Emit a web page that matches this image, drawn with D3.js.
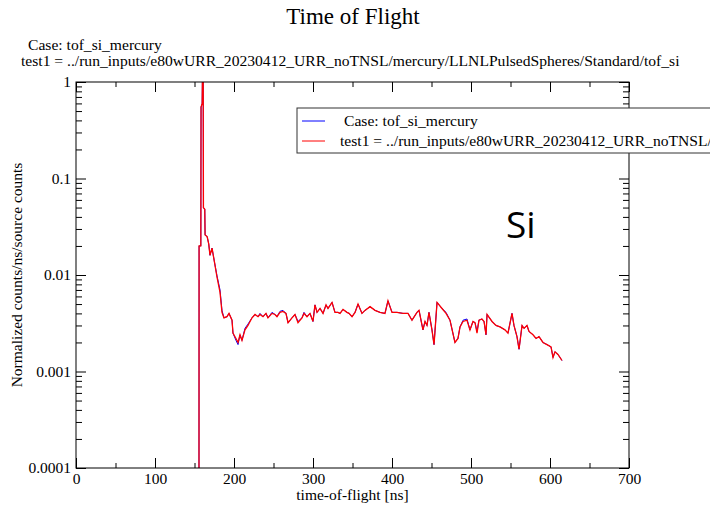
<!DOCTYPE html>
<html>
<head>
<meta charset="utf-8">
<script src="https://cdn.jsdelivr.net/npm/d3@7"></script>
<style>
  body { margin: 0; background: #fff; }
  text { font-family: "Liberation Serif", "DejaVu Serif", serif; }
</style>
</head>
<body>
<svg id="chart" width="710" height="507"></svg>
<script>
// time-of-flight bins [ns]
const tof = [155.6, 155.8, 158.0, 158.3, 159.7, 160.0, 161.0, 161.3, 163.0, 163.4,
  166.0, 168.0, 169.6, 172.2, 175.0, 178.5, 182.3, 184.8, 187.3, 191.1,
  193.7, 197.5, 198.7, 202.5, 205.1, 207.6, 210.1, 213.9, 217.7, 222.8,
  226.6, 230.4, 232.9, 236.7, 240.5, 243.0, 248.1, 251.9, 254.4, 258.2,
  262.0, 265.8, 268.4, 273.4, 277.2, 281.0, 286.1, 288.6, 292.4, 296.2,
  300.0, 302.5, 305.1, 308.9, 312.7, 316.5, 319.0, 324.1, 327.8, 331.6,
  334.2, 338.0, 343.0, 345.6, 349.4, 353.2, 357.0, 362.0, 365.8, 372.2,
  378.5, 384.8, 391.1, 394.9, 400.0, 406.3, 413.9, 420.3, 425.3, 431.6,
  434.2, 439.2, 441.8, 444.3, 446.8, 450.6, 453.2, 457.0, 463.3, 468.4,
  473.4, 479.7, 483.5, 486.1, 489.9, 494.9, 498.7, 502.5, 505.1, 507.6,
  510.1, 513.9, 516.5, 519.0, 520.3, 526.6, 531.6, 536.7, 543.0, 546.8,
  551.9, 554.4, 558.2, 560.8, 564.6, 567.1, 570.9, 573.4, 578.5, 582.3,
  586.1, 591.1, 596.2, 601.3, 603.8, 606.3, 610.1, 615.2];

// Case: tof_si_mercury
const caseCounts = [1e-6, 0.020, 0.020, 0.55, 0.60, 1.0, 1.0, 0.050, 0.048, 0.026,
  0.025, 0.021, 0.016, 0.019, 0.014, 0.0098, 0.0070, 0.0043, 0.0036, 0.0037,
  0.0040, 0.0034, 0.0025, 0.0021, 0.0019, 0.0024, 0.0021, 0.0028, 0.0031, 0.0036,
  0.0039, 0.0037, 0.0040, 0.0037, 0.0040, 0.0036, 0.0041, 0.0039, 0.0037, 0.0042,
  0.0043, 0.0040, 0.0032, 0.0036, 0.0039, 0.0033, 0.0036, 0.0041, 0.0037, 0.0040,
  0.0033, 0.0049, 0.0041, 0.0045, 0.0040, 0.0049, 0.0045, 0.0052, 0.0041, 0.0041,
  0.0040, 0.0044, 0.0041, 0.0040, 0.0037, 0.0041, 0.0050, 0.0040, 0.0043, 0.0047,
  0.0043, 0.0041, 0.0040, 0.0054, 0.0041, 0.0041, 0.0040, 0.0040, 0.0034, 0.0041,
  0.0043, 0.0027, 0.0033, 0.0030, 0.0041, 0.0027, 0.0019, 0.0052, 0.0045, 0.0041,
  0.0034, 0.0020, 0.0022, 0.0029, 0.0034, 0.0035, 0.0027, 0.0033, 0.0032, 0.0026,
  0.0034, 0.0035, 0.0033, 0.0024, 0.0039, 0.0033, 0.0030, 0.0029, 0.0027, 0.0025,
  0.0040, 0.0030, 0.0023, 0.0017, 0.0030, 0.0028, 0.0030, 0.0026, 0.0024, 0.0022,
  0.0023, 0.0020, 0.0019, 0.0018, 0.0014, 0.0016, 0.0015, 0.0013];

// test1 = ../run_inputs/e80wURR_20230412_URR_noTNSL/...
const test1Counts = [1e-6, 0.020, 0.020, 0.55, 0.60, 1.0, 1.0, 0.050, 0.048, 0.026,
  0.025, 0.021, 0.016, 0.019, 0.014, 0.0095, 0.0066, 0.0041, 0.0036, 0.0037,
  0.0040, 0.0034, 0.0025, 0.0022, 0.0020, 0.0024, 0.0021, 0.0027, 0.0030, 0.0036,
  0.0039, 0.0037, 0.0039, 0.0037, 0.0040, 0.0036, 0.0040, 0.0039, 0.0037, 0.0041,
  0.0042, 0.0040, 0.0032, 0.0036, 0.0039, 0.0032, 0.0036, 0.0040, 0.0037, 0.0040,
  0.0033, 0.0049, 0.0041, 0.0045, 0.0040, 0.0049, 0.0045, 0.0052, 0.0041, 0.0041,
  0.0040, 0.0044, 0.0041, 0.0040, 0.0037, 0.0041, 0.0050, 0.0040, 0.0043, 0.0047,
  0.0043, 0.0041, 0.0040, 0.0054, 0.0041, 0.0041, 0.0040, 0.0040, 0.0034, 0.0041,
  0.0043, 0.0027, 0.0033, 0.0030, 0.0041, 0.0027, 0.0019, 0.0052, 0.0045, 0.0040,
  0.0034, 0.0020, 0.0022, 0.0029, 0.0033, 0.0034, 0.0027, 0.0033, 0.0032, 0.0025,
  0.0034, 0.0035, 0.0033, 0.0024, 0.0039, 0.0033, 0.0030, 0.0029, 0.0027, 0.0025,
  0.0040, 0.0030, 0.0023, 0.0017, 0.0030, 0.0028, 0.0030, 0.0026, 0.0024, 0.0022,
  0.0023, 0.0020, 0.0019, 0.0018, 0.0014, 0.0016, 0.0015, 0.0013];

const xTickValues = [0, 100, 200, 300, 400, 500, 600, 700];
const yTickValues = [0.0001, 0.001, 0.01, 0.1, 1];
const yTickLabels = ["0.0001", "0.001", "0.01", "0.1", "1"];
const seriesNames = ["Case: tof_si_mercury",
  "test1 = ../run_inputs/e80wURR_20230412_URR_noTNSL/mercury/LLNLPulsedSpheres/Standard/tof_si"];
const seriesColors = ["blue", "red"];
const seriesWidths = [1, 1.3];

let svg = d3.select("#chart");
let plotLeft = 76, plotRight = 629, plotTop = 82, plotBottom = 468;

let x = d3.scaleLinear().domain([0, 700]).range([plotLeft, plotRight]);
let y = d3.scaleLog().domain([0.0001, 1]).range([plotBottom, plotTop]);

// minor tick positions
let xMinor = d3.range(50, 700, 100);
let yMinor = [];
for (let k = -4; k < 0; k++) {
  for (let m = 2; m <= 9; m++) yMinor.push(m * Math.pow(10, k));
}

svg.append("defs").append("clipPath").attr("id", "plotClip")
  .append("rect")
    .attr("x", plotLeft).attr("y", plotTop)
    .attr("width", plotRight - plotLeft).attr("height", plotBottom - plotTop);

// series lines
let line = d3.line()
  .x((d, i) => x(tof[i]))
  .y(d => y(d));

[caseCounts, test1Counts].forEach(function(vals, i) {
  svg.append("path")
    .datum(vals)
    .attr("d", line)
    .attr("clip-path", "url(#plotClip)")
    .style("fill", "none")
    .style("stroke", seriesColors[i])
    .style("stroke-width", seriesWidths[i]);
});

// frame
svg.append("rect")
  .attr("x", plotLeft).attr("y", plotTop)
  .attr("width", plotRight - plotLeft).attr("height", plotBottom - plotTop)
  .style("fill", "none")
  .style("stroke", "#000")
  .style("stroke-width", 1);

function styleAxis(g) {
  g.select(".domain").remove();
  g.selectAll("line").style("stroke", "#000");
  g.selectAll("text")
    .style("font-family", "Liberation Serif")
    .style("font-size", "15.5px")
    .style("fill", "#000");
}

// x axes (bottom with labels, top mirror), ticks point inward
svg.append("g").attr("transform", "translate(0," + plotBottom + ")")
  .call(d3.axisBottom(x).tickValues(xTickValues).tickSizeInner(-10).tickSizeOuter(0).tickPadding(5).tickFormat(d3.format("d")))
  .call(styleAxis);
svg.append("g").attr("transform", "translate(0," + plotBottom + ")")
  .call(d3.axisBottom(x).tickValues(xMinor).tickSize(-5).tickFormat(""))
  .call(styleAxis);
svg.append("g").attr("transform", "translate(0," + plotTop + ")")
  .call(d3.axisTop(x).tickValues(xTickValues).tickSize(-10).tickFormat(""))
  .call(styleAxis);
svg.append("g").attr("transform", "translate(0," + plotTop + ")")
  .call(d3.axisTop(x).tickValues(xMinor).tickSize(-5).tickFormat(""))
  .call(styleAxis);

// y axes
svg.append("g").attr("transform", "translate(" + plotLeft + ",0)")
  .call(d3.axisLeft(y).tickValues(yTickValues).tickSizeInner(-10).tickSizeOuter(0).tickPadding(5)
    .tickFormat((d, i) => yTickLabels[i]))
  .call(styleAxis);
svg.append("g").attr("transform", "translate(" + plotLeft + ",0)")
  .call(d3.axisLeft(y).tickValues(yMinor).tickSize(-6).tickFormat(""))
  .call(styleAxis);
svg.append("g").attr("transform", "translate(" + plotRight + ",0)")
  .call(d3.axisRight(y).tickValues(yTickValues).tickSize(-10).tickFormat(""))
  .call(styleAxis);
svg.append("g").attr("transform", "translate(" + plotRight + ",0)")
  .call(d3.axisRight(y).tickValues(yMinor).tickSize(-6).tickFormat(""))
  .call(styleAxis);

// titles
svg.append("text")
  .attr("x", 353).attr("y", 24)
  .attr("text-anchor", "middle")
  .style("font-size", "23px")
  .text("Time of Flight");
svg.append("text")
  .attr("x", 28).attr("y", 50)
  .style("font-size", "15.6px")
  .text("Case: tof_si_mercury");
svg.append("text")
  .attr("x", 21).attr("y", 66)
  .style("font-size", "15.6px")
  .text(seriesNames[1]);

// axis labels
svg.append("text")
  .attr("x", (plotLeft + plotRight) / 2).attr("y", 500)
  .attr("text-anchor", "middle")
  .style("font-size", "15.5px")
  .text("time-of-flight [ns]");
svg.append("text")
  .attr("transform", "translate(22," + ((plotTop + plotBottom) / 2) + ") rotate(-90)")
  .attr("text-anchor", "middle")
  .style("font-size", "15.5px")
  .text("Normalized counts/ns/source counts");

// legend
let legend = svg.append("g").attr("transform", "translate(297,108)");
legend.append("rect")
  .attr("width", 430).attr("height", 45)
  .style("fill", "#fff")
  .style("stroke", "#333")
  .style("stroke-width", 1);
seriesNames.forEach(function(name, i) {
  legend.append("line")
    .attr("x1", 5).attr("x2", 28)
    .attr("y1", 13 + i * 20).attr("y2", 13 + i * 20)
    .style("stroke", seriesColors[i]);
  legend.append("text")
    .attr("x", i === 0 ? 47 : 43).attr("y", 18 + i * 20)
    .style("font-size", "15.6px")
    .text(name);
});

// material annotation
svg.append("text")
  .attr("x", 506).attr("y", 238)
  .style("font-family", "Open Sans")
  .style("font-size", "37px")
  .text("Si");
</script>
</body>
</html>
